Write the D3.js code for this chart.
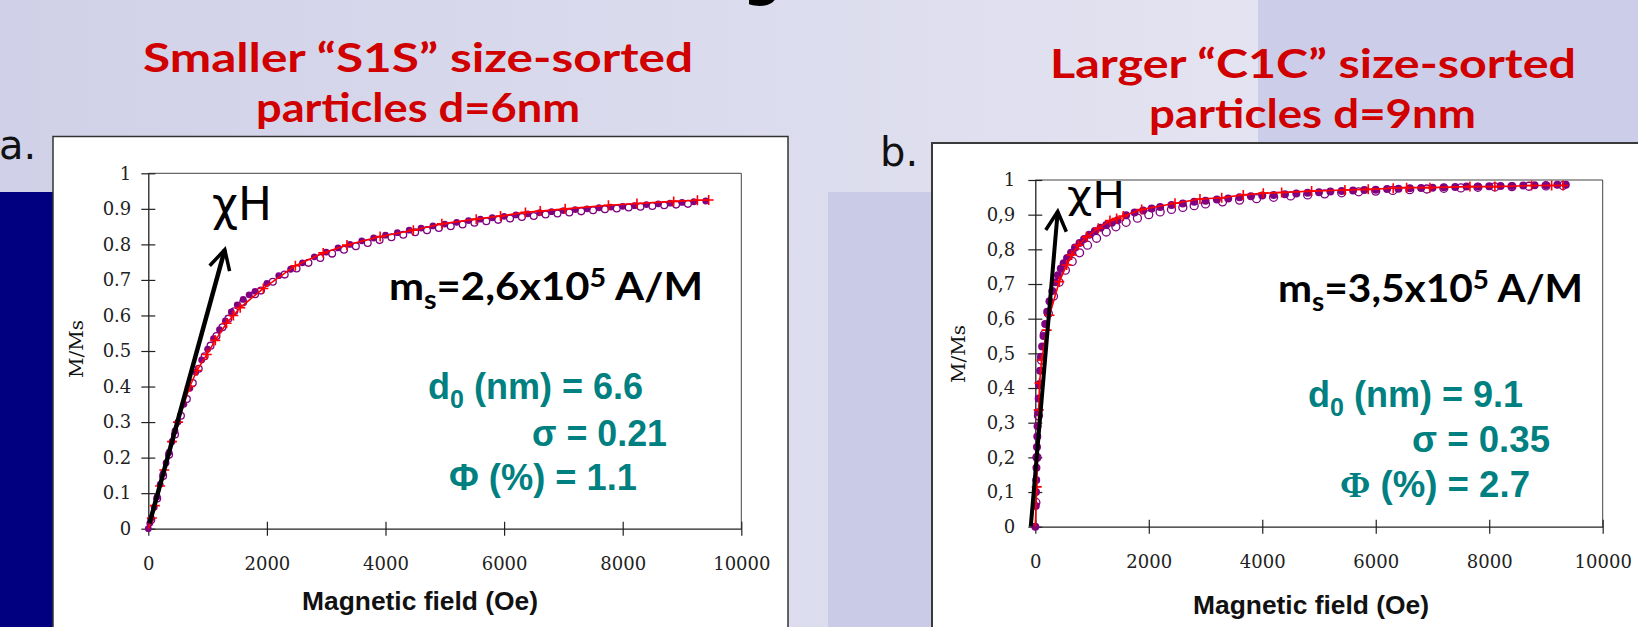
<!DOCTYPE html>
<html lang="en">
<head>
<meta charset="utf-8">
<title>Magnetization curves S1S / C1C</title>
<script src="https://d3js.org/d3.v7.min.js"></script>
<style>
  body { margin: 0; background: #d4d5ea; }
  svg { display: block; }
</style>
</head>
<body>
<script>
// ---- data ----
// axis ticks
var fieldTicks = [0, 2000, 4000, 6000, 8000, 10000];
var magTicks = [0, 0.1, 0.2, 0.3, 0.4, 0.5, 0.6, 0.7, 0.8, 0.9, 1];

// chart a: smaller "S1S" particles
var s1sFilledH = [0,25,50,100,150,200,250,300,350,400,450,500,600,700,800,900,1000,1100,1200,1300,
  1400,1500,1600,1700,1800,2000,2200,2400,2600,2800,3000,3200,3400,3600,3800,4000,4200,4400,4600,4800,
  5000,5200,5400,5600,5800,6000,6200,6400,6600,6800,7000,7200,7400,7600,7800,8000,8200,8400,8600,8800,
  9000,9200,9400];
var s1sFilledM = [0,0.015,0.03,0.06,0.09,0.125,0.155,0.185,0.215,0.245,0.275,0.3,0.35,0.395,0.44,0.475,0.505,0.535,0.56,0.585,
  0.61,0.63,0.645,0.658,0.668,0.69,0.712,0.73,0.748,0.765,0.778,0.79,0.8,0.81,0.818,0.826,0.833,0.84,0.846,0.852,
  0.857,0.862,0.867,0.871,0.875,0.879,0.883,0.886,0.889,0.892,0.895,0.898,0.9,0.903,0.905,0.907,0.909,0.912,0.914,0.916,
  0.918,0.92,0.922];
var s1sOpenH = [50,150,250,350,450,550,650,750,850,950,1050,1150,1250,1350,1450,1600,1800,1900,
  2100,2300,2500,2700,2900,3100,3300,3500,3700,3900,4100,4300,4500,4700,4900,5100,5300,5500,5700,5900,
  6100,6300,6500,6700,6900,7100,7300,7500,7700,7900,8100,8300,8500,8700,8900,9100];
var s1sOpenM = [0.025,0.085,0.148,0.208,0.265,0.318,0.365,0.41,0.45,0.485,0.515,0.542,0.567,0.591,0.612,0.637,0.66,0.67,
  0.695,0.715,0.732,0.748,0.762,0.774,0.785,0.795,0.804,0.812,0.82,0.827,0.834,0.84,0.846,0.851,0.856,0.861,0.865,0.869,
  0.873,0.877,0.88,0.884,0.887,0.89,0.893,0.896,0.899,0.901,0.904,0.906,0.908,0.91,0.912,0.914];
var s1sFitH = [0,60,110,200,270,400,500,700,820,985,1130,1320,1435,1550,1940,2480,2950,3350,3910,4470,
  4950,5530,5940,6360,6610,7030,7760,8240,8860,9260,9450];
var s1sFitM = [0,0.03,0.065,0.12,0.165,0.245,0.3,0.4,0.445,0.49,0.53,0.578,0.6,0.622,0.676,0.74,0.776,0.798,0.822,0.84,
  0.858,0.871,0.88,0.89,0.894,0.9,0.91,0.915,0.921,0.924,0.925];
var s1sArrowH = [20, 1290];
var s1sArrowM = [0.015, 0.785];

// chart b: larger "C1C" particles
var c1cFilledH = [0,8,12,16,20,25,30,35,40,50,60,70,85,100,120,145,175,210,250,300,
  350,400,450,500,560,630,700,780,860,950,1050,1150,1250,1350,1450,1600,1750,1900,2050,2200,
  2400,2600,2800,3000,3200,3400,3600,3800,4000,4200,4400,4600,4800,5000,5200,5400,5600,5800,6000,6200,
  6400,6600,6800,7000,7200,7400,7600,7800,8000,8200,8400,8600,8800,9000,9200,9350];
var c1cFilledM = [0,0.06,0.1,0.135,0.17,0.2,0.23,0.26,0.29,0.33,0.37,0.41,0.45,0.49,0.52,0.55,0.585,0.62,0.65,0.68,
  0.705,0.725,0.745,0.76,0.775,0.79,0.805,0.818,0.83,0.842,0.853,0.862,0.87,0.877,0.884,0.898,0.906,0.912,0.918,0.922,
  0.928,0.932,0.937,0.94,0.944,0.947,0.95,0.953,0.955,0.957,0.959,0.961,0.963,0.965,0.967,0.968,0.97,0.971,0.972,0.974,
  0.975,0.976,0.977,0.978,0.979,0.98,0.981,0.981,0.982,0.983,0.983,0.984,0.985,0.985,0.986,0.986];
var c1cOpenH = [10,30,55,80,110,160,230,320,420,530,650,780,920,1080,1250,1420,1600,1800,2000,2200,
  2400,2600,2800,3000,3300,3600,3900,4200,4500,4800,5100,5400,5700,6000,6300,6600,6900,7200,7500,7800,
  8100,8400,8700,9000,9300];
var c1cOpenM = [0.07,0.2,0.32,0.41,0.48,0.555,0.615,0.665,0.705,0.74,0.765,0.79,0.812,0.832,0.85,0.865,0.878,0.89,0.9,0.908,
  0.915,0.921,0.926,0.931,0.937,0.942,0.946,0.95,0.954,0.957,0.96,0.963,0.966,0.968,0.97,0.972,0.974,0.976,0.977,0.979,
  0.98,0.981,0.982,0.983,0.984];
var c1cFitH = [0,25,60,75,112,200,250,423,553,641,758,906,1110,1316,1434,1551,1875,2462,2902,3285,
  3665,4018,4342,4870,5457,5868,6308,6544,6955,7660,8100,8747,9100,9304];
var c1cFitM = [0,0.115,0.337,0.414,0.481,0.567,0.61,0.707,0.755,0.784,0.812,0.836,0.861,0.883,0.889,0.896,0.915,0.933,0.945,0.949,
  0.957,0.962,0.964,0.968,0.971,0.973,0.976,0.978,0.978,0.981,0.981,0.984,0.984,0.984];
var c1cArrowH = [-80, 395];
var c1cArrowM = [0, 0.909];

// colours
var purple = "#800080";
var red = "#ff0000";
var teal = "#008080";
var titleRed = "#d00000";

var w = 1638, h = 627;

var svg = d3.select("body").append("svg")
  .attr("width", w)
  .attr("height", h);

// ---- slide background ----
var grad = svg.append("defs").append("linearGradient")
  .attr("id", "bgGrad")
  .attr("gradientUnits", "userSpaceOnUse")
  .attr("x1", 0).attr("x2", 1258).attr("y1", 0).attr("y2", 0);
grad.append("stop").attr("offset", "0%").attr("stop-color", "#d0d1e8");
grad.append("stop").attr("offset", "100%").attr("stop-color", "#e3e3f1");

svg.append("rect").attr("width", w).attr("height", h).attr("fill", "url(#bgGrad)");
svg.append("rect").attr("x", 1258).attr("y", 0).attr("width", w - 1258).attr("height", h).attr("fill", "#cccde8");
svg.append("rect").attr("x", 828).attr("y", 192).attr("width", 430).attr("height", h - 192).attr("fill", "#cacbe6");
svg.append("rect").attr("x", 0).attr("y", 192).attr("width", 53).attr("height", h - 192).attr("fill", "#000080");

// descender of the cut-off slide title
svg.append("text")
  .attr("x", 743).attr("y", -5)
  .attr("font-family", "DejaVu Sans").attr("font-weight", "bold").attr("font-size", 54)
  .attr("fill", "#000")
  .text("g");

// white chart boxes
svg.append("rect").attr("x", 53).attr("y", 136.5).attr("width", 735).attr("height", 520)
  .attr("fill", "#fff").attr("stroke", "#333").attr("stroke-width", 1.5);
svg.append("rect").attr("x", 932).attr("y", 143).attr("width", 740).attr("height", 520)
  .attr("fill", "#fff").attr("stroke", "#3a3a3a").attr("stroke-width", 2);

// panel letters
svg.append("text").attr("x", -1).attr("y", 159)
  .attr("font-family", "DejaVu Sans").attr("font-size", 40).attr("fill", "#111")
  .text("a.");
svg.append("text").attr("x", 880).attr("y", 166)
  .attr("font-family", "DejaVu Sans").attr("font-size", 40).attr("fill", "#111")
  .text("b.");

// helper for text squeezed to a given width
function fitText(x, y, str, len, size, family, weight, fill) {
  return svg.append("text")
    .attr("x", x).attr("y", y)
    .attr("font-family", family)
    .attr("font-weight", weight)
    .attr("font-size", size)
    .attr("fill", fill)
    .attr("textLength", len)
    .attr("lengthAdjust", "spacingAndGlyphs")
    .text(str);
}

// titles
fitText(143, 72, "Smaller \u201CS1S\u201D size-sorted", 550, 40, "Lato", "bold", titleRed);
fitText(256, 122, "particles d=6nm", 324, 40, "Lato", "bold", titleRed);
fitText(1050, 78, "Larger \u201CC1C\u201D size-sorted", 526, 40, "Lato", "bold", titleRed);
fitText(1149, 128, "particles d=9nm", 327, 40, "Lato", "bold", titleRed);

function drawChart(c) {
  var x = d3.scaleLinear().domain([0, 10000]).range([c.x0, c.x1]);
  var y = d3.scaleLinear().domain([0, 1]).range([c.y0, c.y1]);
  var g = svg.append("g");

  // top and right frame lines
  g.append("path")
    .attr("d", "M" + c.x0 + "," + c.y1 + "H" + c.x1 + "V" + c.y0)
    .attr("fill", "none").attr("stroke", "#444").attr("stroke-width", 1);

  // x axis
  var xAxis = d3.axisBottom(x).tickValues(fieldTicks)
    .tickSize(7).tickSizeOuter(0).tickPadding(22)
    .tickFormat(d3.format("d"));
  var gx = g.append("g")
    .attr("transform", "translate(0," + c.y0 + ")")
    .call(xAxis);
  gx.selectAll(".tick line").attr("y1", -7);
  // y axis
  var yAxis = d3.axisLeft(y).tickValues(magTicks)
    .tickSize(7).tickSizeOuter(0).tickPadding(c.ypad)
    .tickFormat(function(d) {
      var s = (d === 0 || d === 1) ? d3.format("d")(d) : d3.format(".1f")(d);
      return s.replace(".", c.dec);
    });
  var gy = g.append("g")
    .attr("transform", "translate(" + c.x0 + ",0)")
    .call(yAxis);
  gy.selectAll(".tick line").attr("x1", 7);

  [gx, gy].forEach(function(a) {
    a.attr("color", "#222")
      .attr("font-family", "DejaVu Serif")
      .attr("font-size", 18);
    a.select(".domain").attr("stroke-width", 1.3);
    a.selectAll(".tick line").attr("stroke-width", 1.2);
  });

  // axis titles
  g.append("text")
    .attr("x", c.xt).attr("y", c.xtY)
    .attr("font-family", "Liberation Sans").attr("font-weight", "bold")
    .attr("font-size", 25).attr("fill", "#111")
    .attr("textLength", 236).attr("lengthAdjust", "spacingAndGlyphs")
    .text("Magnetic field (Oe)");
  g.append("text")
    .attr("transform", "translate(" + c.ytX + "," + c.ytY + ") rotate(-90)")
    .attr("text-anchor", "middle")
    .attr("font-family", "DejaVu Serif").attr("font-size", 19).attr("fill", "#111")
    .attr("textLength", 58).attr("lengthAdjust", "spacingAndGlyphs")
    .text("M/Ms");

  // open circles
  g.append("g").selectAll("circle")
    .data(d3.zip(c.openH, c.openM))
    .join("circle")
    .attr("cx", function(d) { return x(d[0]); })
    .attr("cy", function(d) { return y(d[1]); })
    .attr("r", c.r)
    .attr("fill", "none").attr("stroke", purple).attr("stroke-width", 1.3);

  // filled circles
  g.append("g").selectAll("circle")
    .data(d3.zip(c.filledH, c.filledM))
    .join("circle")
    .attr("cx", function(d) { return x(d[0]); })
    .attr("cy", function(d) { return y(d[1]); })
    .attr("r", c.r)
    .attr("fill", purple);

  // fit line and crosses
  var fit = d3.zip(c.fitH, c.fitM);
  var line = d3.line()
    .x(function(d) { return x(d[0]); })
    .y(function(d) { return y(d[1]); });
  g.append("path")
    .attr("d", line(fit))
    .attr("fill", "none").attr("stroke", red).attr("stroke-width", 1.6);
  g.append("g").selectAll("path")
    .data(fit.slice(1))
    .join("path")
    .attr("d", function(d) {
      var px = x(d[0]), py = y(d[1]), s = 5;
      return "M" + (px - s) + "," + py + "H" + (px + s) + "M" + px + "," + (py - s) + "V" + (py + s);
    })
    .attr("stroke", red).attr("stroke-width", 1.6);

  // chi*H arrow
  var a = d3.zip(c.arrowH, c.arrowM).map(function(d) { return [x(d[0]), y(d[1])]; });
  var back = Math.atan2(a[0][1] - a[1][1], a[0][0] - a[1][0]);
  var arm = 22, spread = 28 * Math.PI / 180;
  var p1 = [a[1][0] + arm * Math.cos(back + spread), a[1][1] + arm * Math.sin(back + spread)];
  var p2 = [a[1][0] + arm * Math.cos(back - spread), a[1][1] + arm * Math.sin(back - spread)];
  g.append("path")
    .attr("d", "M" + a[0] + "L" + a[1])
    .attr("stroke", "#000").attr("stroke-width", c.aw).attr("fill", "none");
  g.append("path")
    .attr("d", "M" + p1 + "L" + a[1] + "L" + p2)
    .attr("stroke", "#000").attr("stroke-width", 3.5).attr("fill", "none")
    .attr("stroke-linejoin", "miter");
  fitText(c.chiX, c.chiY, "\u03C7H", c.chiW, c.chiS, "DejaVu Sans", "normal", "#000");

  // saturation magnetisation label
  var ms = svg.append("text")
    .attr("x", c.msX).attr("y", c.msY)
    .attr("font-family", "Lato").attr("font-weight", "bold")
    .attr("font-size", 38).attr("fill", "#000")
    .attr("textLength", c.msW).attr("lengthAdjust", "spacingAndGlyphs");
  ms.append("tspan").text("m");
  ms.append("tspan").attr("font-size", 26).attr("dy", 9).text("s");
  ms.append("tspan").attr("dy", -9).text(c.msVal);
  ms.append("tspan").attr("font-size", 26).attr("dy", -13).text("5");
  ms.append("tspan").attr("dy", 13).text(" A/M");

  // fitted parameters
  var d0 = svg.append("text")
    .attr("x", c.p[0][0]).attr("y", c.p[0][1])
    .attr("font-family", "Liberation Sans").attr("font-weight", "bold")
    .attr("font-size", 36).attr("fill", teal)
    .attr("textLength", c.p[0][2]).attr("lengthAdjust", "spacingAndGlyphs");
  d0.append("tspan").text("d");
  d0.append("tspan").attr("font-size", 25).attr("dy", 9).text("0");
  d0.append("tspan").attr("dy", -9).text(" (nm) = " + c.d0);
  fitText(c.p[1][0], c.p[1][1], "\u03C3 = " + c.sigma, c.p[1][2], 36, "Liberation Sans", "bold", teal);
  var phi = svg.append("text")
    .attr("x", c.p[2][0]).attr("y", c.p[2][1])
    .attr("font-family", "Liberation Sans").attr("font-weight", "bold")
    .attr("font-size", 36).attr("fill", teal)
    .attr("textLength", c.p[2][2]).attr("lengthAdjust", "spacingAndGlyphs");
  phi.append("tspan").attr("font-family", c.phiFont).text("\u03A6");
  phi.append("tspan").text(" (%) = " + c.phi);
}

drawChart({
  x0: 148.3, x1: 741.3, y0: 528.7, y1: 173.3, ypad: 10, dec: ".", r: 3.4,
  xt: 302, xtY: 610, ytX: 83, ytY: 349,
  filledH: s1sFilledH, filledM: s1sFilledM, openH: s1sOpenH, openM: s1sOpenM,
  fitH: s1sFitH, fitM: s1sFitM, arrowH: s1sArrowH, arrowM: s1sArrowM, aw: 4.5,
  chiX: 212, chiY: 220, chiW: 60, chiS: 46,
  msX: 389, msY: 300, msW: 314, msVal: "=2,6x10",
  p: [[428, 399, 215], [532, 446, 135], [449, 490, 188]],
  d0: "6.6", sigma: "0.21", phi: "1.1", phiFont: "Liberation Sans"
});

drawChart({
  x0: 1035.3, x1: 1602.7, y0: 526.7, y1: 180, ypad: 13, dec: ",", r: 4,
  xt: 1193, xtY: 614, ytX: 965, ytY: 354,
  filledH: c1cFilledH, filledM: c1cFilledM, openH: c1cOpenH, openM: c1cOpenM,
  fitH: c1cFitH, fitM: c1cFitM, arrowH: c1cArrowH, arrowM: c1cArrowM, aw: 4,
  chiX: 1067, chiY: 208, chiW: 58, chiS: 38,
  msX: 1278, msY: 302, msW: 305, msVal: "=3,5x10",
  p: [[1308, 407, 215], [1412, 452, 138], [1340, 497, 190]],
  d0: "9.1", sigma: "0.35", phi: "2.7", phiFont: "Liberation Serif"
});
</script>
</body>
</html>
